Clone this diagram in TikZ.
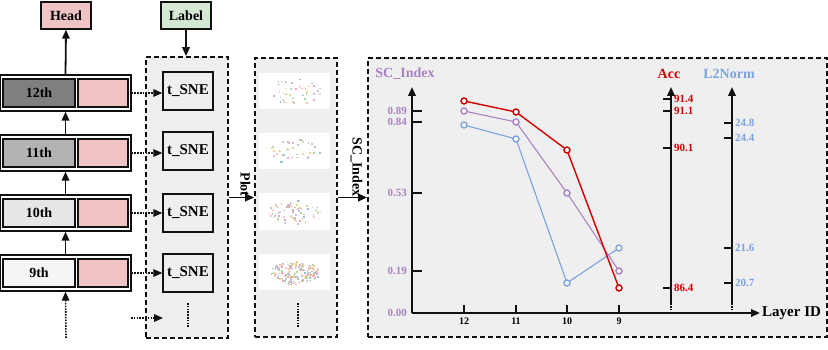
\documentclass[tikz,border=0pt]{standalone}
\usepackage{fontspec}
\setmainfont{Liberation Serif}
\usetikzlibrary{arrows.meta,positioning,calc}
\definecolor{Ink}{HTML}{111111}
\definecolor{PanelBg}{HTML}{EFEFEF}
\definecolor{HeadPink}{HTML}{F0C4C4}
\definecolor{LabelGreen}{HTML}{D5E8D4}
\definecolor{Gray12}{HTML}{7F7F7F}
\definecolor{Gray11}{HTML}{B3B3B3}
\definecolor{Gray10}{HTML}{E6E6E6}
\definecolor{Gray9}{HTML}{F5F5F5}
\definecolor{AccRed}{HTML}{D00000}
\definecolor{ScPurple}{HTML}{A982C2}
\definecolor{NormBlue}{HTML}{7BA3E0}
\definecolor{Dot0}{HTML}{9CC0E4}
\definecolor{Dot1}{HTML}{F9C895}
\definecolor{Dot2}{HTML}{A6D9A6}
\definecolor{Dot3}{HTML}{F2AAAA}
\definecolor{Dot4}{HTML}{CFBCE4}
\definecolor{Dot5}{HTML}{D2B5AE}
\definecolor{Dot6}{HTML}{F5C4E4}
\definecolor{Dot7}{HTML}{C8C8C8}
\definecolor{Dot8}{HTML}{DDDD95}
% scattered points of one t-SNE plot: centre, rx, ry, count, seed
\newcommand{\tsnecloud}[5]{%
  \pgfmathsetseed{#5}%
  \foreach \k in {1,...,#4}{%
    \pgfmathsetmacro{\ang}{360*rnd}%
    \pgfmathsetmacro{\rad}{sqrt(rnd)}%
    \pgfmathtruncatemacro{\ci}{mod(\k,9)}%
    \fill[fill=Dot\ci] ($(#1)+({#2*\rad*cos(\ang)},{#3*\rad*sin(\ang)})$) rectangle ++(1.7,1.7);
  }}

\begin{document}
\begin{tikzpicture}[x=1pt,y=-1pt,>={Triangle[length=9pt,width=7.5pt]},
  layerbox/.style={draw=Ink,line width=1.3pt,fill=white,minimum width=131pt,minimum height=36pt,inner sep=0pt},
  layercell/.style={draw=Ink,line width=1.4pt,minimum height=28pt,inner sep=0pt,font=\bfseries\fontsize{14}{16}\selectfont},
  topbox/.style={draw=Ink,line width=1.3pt,minimum width=50pt,minimum height=27pt,inner sep=0pt,font=\bfseries\fontsize{14}{16}\selectfont},
  snebox/.style={draw=Ink,line width=1.4pt,fill=PanelBg,minimum width=50pt,minimum height=38pt,inner sep=0pt,font=\bfseries\fontsize{15}{17}\selectfont},
  panel/.style={draw=Ink,line width=1.6pt,dash pattern=on 5pt off 3pt,fill=PanelBg,inner sep=0pt},
  plotimg/.style={fill=white,minimum width=71pt,minimum height=36pt,inner sep=0pt},
  flow/.style={->,draw=Ink,line width=1.8pt},
  dotflow/.style={->,draw=Ink,line width=1.6pt,dash pattern=on 1.6pt off 1.2pt},
  vdots/.style={draw=Ink,line width=1.6pt,dash pattern=on 1.6pt off 1.2pt},
  axis/.style={draw=Ink,line width=2pt},
  ticklab/.style={font=\bfseries\fontsize{11}{13}\selectfont,inner sep=1pt},
  axisname/.style={font=\bfseries\fontsize{14}{16}\selectfont,inner sep=0pt},
  datamark/.style={line width=1.4pt,fill=white}]
\useasboundingbox (0,0) rectangle (828,350);

% layers of the encoder
\node[layerbox] (l12) at (65.5,93) {};
\node[layercell,fill=Gray12,minimum width=72pt] (g12) at (39,93) {12th};
\node[layercell,fill=HeadPink,minimum width=50pt] (p12) at (103,93) {};
\node[layerbox] (l11) at (65.5,153) {};
\node[layercell,fill=Gray11,minimum width=72pt] (g11) at (39,153) {11th};
\node[layercell,fill=HeadPink,minimum width=50pt] (p11) at (103,153) {};
\node[layerbox] (l10) at (65.5,213) {};
\node[layercell,fill=Gray10,minimum width=72pt] (g10) at (39,213) {10th};
\node[layercell,fill=HeadPink,minimum width=50pt] (p10) at (103,213) {};
\node[layerbox] (l9) at (65.5,273) {};
\node[layercell,fill=Gray9,minimum width=72pt] (g9) at (39,273) {9th};
\node[layercell,fill=HeadPink,minimum width=50pt] (p9) at (103,273) {};

\node[topbox,fill=HeadPink] (head) at (66,15.5) {Head};
\node[topbox,fill=LabelGreen] (label) at (186,15.5) {Label};

\coordinate (inlow) at (66,338);
\draw[dotflow] (inlow) -- (l9.south);
\draw[flow] (l9.north) -- (l10.south);
\draw[flow] (l10.north) -- (l11.south);
\draw[flow] (l11.north) -- (l12.south);
\draw[flow] (l12.north) -- (head.south);

% t-SNE panel
\node[panel,minimum width=82pt,minimum height=281pt] (tbox) at (187,197.5) {};
\node[snebox] (s12) at (188,91) {t\_SNE};
\node[snebox] (s11) at (188,151) {t\_SNE};
\node[snebox] (s10) at (188,213) {t\_SNE};
\node[snebox] (s9) at (188,273) {t\_SNE};
\draw[vdots] (188,303) -- (188,328);
\draw[flow] (label.south) -- (label.south |- tbox.north);
\draw[dotflow] (l12.east) -- (l12.east -| s12.west);
\draw[dotflow] (l11.east) -- (l11.east -| s11.west);
\draw[dotflow] (l10.east) -- (l10.east -| s10.west);
\draw[dotflow] (l9.east) -- (l9.east -| s9.west);
\coordinate (morein) at (131,318);
\coordinate (moreout) at (163,318);
\draw[dotflow] (morein) -- (moreout);

% plot panel
\node[panel,minimum width=82pt,minimum height=279pt] (pbox) at (296,197.5) {};
\node[plotimg] (img1) at (294.5,91) {};
\node[plotimg] (img2) at (294.5,151.5) {};
\node[plotimg] (img3) at (294.5,211.5) {};
\node[plotimg] (img4) at (294.5,272) {};
\tsnecloud{img1}{26}{13}{40}{7}
\tsnecloud{img2}{26}{13}{40}{21}
\tsnecloud{img3}{27}{12}{70}{5}
\tsnecloud{img4}{24}{12}{170}{13}
\draw[vdots] (298,303) -- (298,328);
\draw[flow] (tbox.east) -- node[rotate=-90,anchor=east,yshift=4pt,font=\bfseries\fontsize{14}{16}\selectfont,inner sep=0pt] (plotname) {Plot} (pbox.west);

% chart panel
\node[panel,minimum width=459pt,minimum height=279pt] (cbox) at (597.5,197.5) {};
\draw[flow] (pbox.east) -- node[rotate=-90,anchor=east,yshift=4pt,font=\bfseries\fontsize{14}{16}\selectfont,inner sep=0pt] (scarrow) {SC\_Index} (cbox.west);

\draw[axis,->] (412,313) -- (412,87);
\draw[axis,->] (412,313) -- (760,313);
\node[axisname,anchor=west,font=\bfseries\fontsize{15}{17}\selectfont] (layerid) at (762,313) {Layer ID};
\node[axisname,text=ScPurple] (scname) at (405,74) {SC\_Index};
\node[axisname,text=AccRed] (accname) at (669,74) {Acc};
\node[axisname,text=NormBlue] (normname) at (729,74) {L2Norm};

% SC_Index ticks
\draw[axis] (412,111) -- (422,111);
\draw[axis] (412,122) -- (422,122);
\draw[axis] (412,193) -- (422,193);
\draw[axis] (412,271) -- (422,271);
\node[ticklab,text=ScPurple,anchor=east] (sc89) at (408,111) {0.89};
\node[ticklab,text=ScPurple,anchor=east] (sc84) at (408,122) {0.84};
\node[ticklab,text=ScPurple,anchor=east] (sc53) at (408,193) {0.53};
\node[ticklab,text=ScPurple,anchor=east] (sc19) at (408,271) {0.19};
\node[ticklab,text=ScPurple,anchor=east] (sc00) at (408,313) {0.00};

% layer ticks
\draw[axis] (464,313) -- (464,305);
\draw[axis] (516,313) -- (516,305);
\draw[axis] (567,313) -- (567,305);
\draw[axis] (619,313) -- (619,305);
\node[ticklab,anchor=north,font=\bfseries\fontsize{10}{12}\selectfont] (x12) at (464,317) {12};
\node[ticklab,anchor=north,font=\bfseries\fontsize{10}{12}\selectfont] (x11) at (516,317) {11};
\node[ticklab,anchor=north,font=\bfseries\fontsize{10}{12}\selectfont] (x10) at (567,317) {10};
\node[ticklab,anchor=north,font=\bfseries\fontsize{10}{12}\selectfont] (x9) at (619,317) {9};

% Acc axis
\draw[axis,->] (671,303) -- (671,87);
\draw[axis,dash pattern=on 1.5pt off 1.2pt] (671,313) -- (671,303);
\draw[axis] (663,99) -- (671,99);
\draw[axis] (663,111) -- (671,111);
\draw[axis] (663,148) -- (671,148);
\draw[axis] (663,288) -- (671,288);
\node[ticklab,text=AccRed,anchor=west] (acc914) at (673,99) {91.4};
\node[ticklab,text=AccRed,anchor=west] (acc911) at (673,111) {91.1};
\node[ticklab,text=AccRed,anchor=west] (acc901) at (673,148) {90.1};
\node[ticklab,text=AccRed,anchor=west] (acc864) at (673,288) {86.4};

% L2Norm axis
\draw[axis,->] (732,303) -- (732,87);
\draw[axis,dash pattern=on 1.5pt off 1.2pt] (732,313) -- (732,303);
\draw[axis] (724,123) -- (732,123);
\draw[axis] (724,138) -- (732,138);
\draw[axis] (724,248) -- (732,248);
\draw[axis] (724,283) -- (732,283);
\node[ticklab,text=NormBlue,anchor=west] (n248) at (734,123) {24.8};
\node[ticklab,text=NormBlue,anchor=west] (n244) at (734,138) {24.4};
\node[ticklab,text=NormBlue,anchor=west] (n216) at (734,248) {21.6};
\node[ticklab,text=NormBlue,anchor=west] (n207) at (734,283) {20.7};

% curves
\draw[NormBlue,line width=1.1pt] (464,125) -- (516,139) -- (567,283) -- (619,248);
\draw[ScPurple,line width=1.1pt] (464,111) -- (516,122) -- (567,193) -- (619,271);
\draw[AccRed,line width=1.4pt] (464,101) -- (516,112) -- (567,150) -- (619,288);
\draw[NormBlue,datamark] (464,125) circle (3pt);
\draw[NormBlue,datamark] (516,139) circle (3pt);
\draw[NormBlue,datamark] (567,283) circle (3pt);
\draw[NormBlue,datamark] (619,248) circle (3pt);
\draw[ScPurple,datamark] (464,111) circle (3pt);
\draw[ScPurple,datamark] (516,122) circle (3pt);
\draw[ScPurple,datamark] (567,193) circle (3pt);
\draw[ScPurple,datamark] (619,271) circle (3pt);
\draw[AccRed,datamark] (464,101) circle (3pt);
\draw[AccRed,datamark] (516,112) circle (3pt);
\draw[AccRed,datamark] (567,150) circle (3pt);
\draw[AccRed,datamark] (619,288) circle (3pt);
\end{tikzpicture}
\end{document}
